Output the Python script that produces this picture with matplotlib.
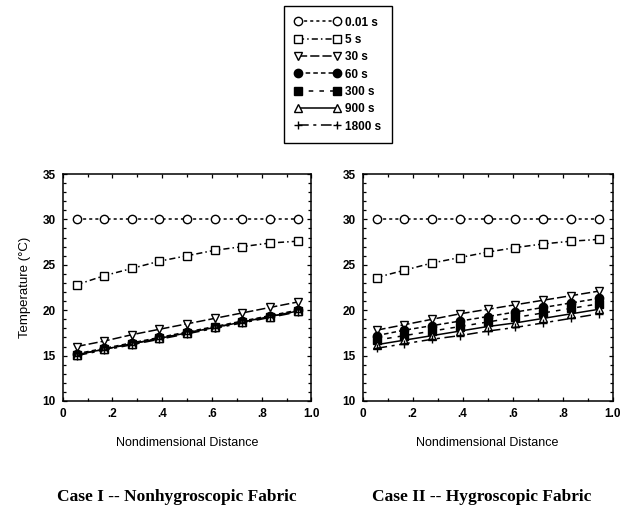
import numpy as np
import matplotlib.pyplot as plt
from matplotlib.ticker import MultipleLocator, FixedLocator, FixedFormatter

plt.rcParams['font.family'] = ['Liberation Sans', 'DejaVu Sans']

# nondimensional distance of the nodes
dist = [0.056, 0.167, 0.278, 0.389, 0.5, 0.611, 0.722, 0.833, 0.944]

times = ['0.01 s', '5 s', '30 s', '60 s', '300 s', '900 s', '1800 s']

# case I - nonhygroscopic fabric
temp_dry_001 = [30.0, 30.0, 30.0, 30.0, 30.0, 30.0, 30.0, 30.0, 30.0]
temp_dry_5 = [22.8, 23.8, 24.6, 25.4, 26.0, 26.6, 27.0, 27.4, 27.6]
temp_dry_30 = [16.0, 16.6, 17.3, 17.9, 18.5, 19.1, 19.7, 20.3, 20.9]
temp_dry_60 = [15.2, 15.8, 16.4, 17.0, 17.6, 18.2, 18.8, 19.4, 20.0]
temp_dry_300 = [15.1, 15.7, 16.3, 16.9, 17.5, 18.1, 18.7, 19.3, 19.9]
temp_dry_900 = [15.1, 15.7, 16.3, 16.9, 17.5, 18.1, 18.7, 19.3, 19.9]
temp_dry_1800 = [15.0, 15.6, 16.2, 16.8, 17.4, 18.0, 18.6, 19.2, 19.8]

# case II - hygroscopic fabric
temp_wet_001 = [30.0, 30.0, 30.0, 30.0, 30.0, 30.0, 30.0, 30.0, 30.0]
temp_wet_5 = [23.6, 24.4, 25.2, 25.8, 26.4, 26.9, 27.3, 27.6, 27.8]
temp_wet_30 = [17.8, 18.4, 19.0, 19.6, 20.1, 20.6, 21.1, 21.6, 22.1]
temp_wet_60 = [17.2, 17.8, 18.3, 18.8, 19.3, 19.8, 20.3, 20.8, 21.3]
temp_wet_300 = [16.7, 17.2, 17.7, 18.2, 18.7, 19.2, 19.7, 20.2, 20.7]
temp_wet_900 = [16.2, 16.7, 17.2, 17.7, 18.2, 18.6, 19.1, 19.6, 20.1]
temp_wet_1800 = [15.8, 16.3, 16.8, 17.2, 17.7, 18.1, 18.6, 19.1, 19.6]

dry = [temp_dry_001, temp_dry_5, temp_dry_30, temp_dry_60,
       temp_dry_300, temp_dry_900, temp_dry_1800]
wet = [temp_wet_001, temp_wet_5, temp_wet_30, temp_wet_60,
       temp_wet_300, temp_wet_900, temp_wet_1800]

# marker, face, dash pattern
styles = [
    ('o', 'white', (2, 2)),
    ('s', 'white', (4, 2, 1, 2)),
    ('v', 'white', (6, 2)),
    ('o', 'black', (3, 2)),
    ('s', 'black', (3, 4)),
    ('^', 'white', None),
    ('+', 'black', (7, 3, 2, 3)),
]

fig = plt.figure(figsize=(6.25, 5.17), dpi=100)
ax1 = fig.add_axes([0.1003, 0.2244, 0.398, 0.439])
ax2 = fig.add_axes([0.580, 0.2244, 0.4005, 0.439])

handles = []
for ax, data in ((ax1, dry), (ax2, wet)):
    for (mk, fc, dash), y, lab in zip(styles, data, times):
        ln, = ax.plot(dist, y, color='black', lw=1.1, marker=mk, ms=6,
                      mfc=fc, mec='black', mew=1.0, label=lab)
        if dash is not None:
            ln.set_dashes(dash)
        if ax is ax1:
            handles.append(ln)

    ax.set_xlim(0, 1.0)
    ax.set_ylim(10, 35)
    ax.xaxis.set_major_locator(FixedLocator([0, 0.2, 0.4, 0.6, 0.8, 1.0]))
    ax.xaxis.set_major_formatter(FixedFormatter(['0', '.2', '.4', '.6', '.8', '1.0']))
    ax.xaxis.set_minor_locator(MultipleLocator(0.1))
    ax.yaxis.set_major_locator(MultipleLocator(5))
    ax.yaxis.set_minor_locator(MultipleLocator(1))
    ax.tick_params(which='both', direction='in', top=True, right=True,
                   labelsize=8.5, width=0.9, pad=5)
    ax.tick_params(which='major', length=3)
    ax.tick_params(which='minor', length=2)
    for lbl in ax.get_xticklabels() + ax.get_yticklabels():
        lbl.set_fontweight('bold')
    for sp in ax.spines.values():
        sp.set_linewidth(1.1)
    ax.set_xlabel('Nondimensional Distance', fontsize=9, labelpad=12)

ax1.set_ylabel('Temperature (°C)', fontsize=9.5, labelpad=8)

leg = fig.legend(handles=handles, loc='upper left',
                 bbox_to_anchor=(284 / 625, 1 - 6 / 517), numpoints=2,
                 handlelength=3.9, handletextpad=0.4, labelspacing=0.45,
                 fontsize=8.5, fancybox=False, framealpha=1,
                 borderpad=0.9, borderaxespad=0)
leg.get_frame().set_edgecolor('black')
leg.get_frame().set_linewidth(1.0)
for t in leg.get_texts():
    t.set_fontweight('bold')

fig.text(177 / 625, 1 - 497 / 517, 'Case I -- Nonhygroscopic Fabric',
         ha='center', va='center', fontsize=12.5, fontweight='bold',
         family='Liberation Serif')
fig.text(482 / 625, 1 - 497 / 517, 'Case II -- Hygroscopic Fabric',
         ha='center', va='center', fontsize=12.5, fontweight='bold',
         family='Liberation Serif')

fig.savefig('out.png', dpi=100)
